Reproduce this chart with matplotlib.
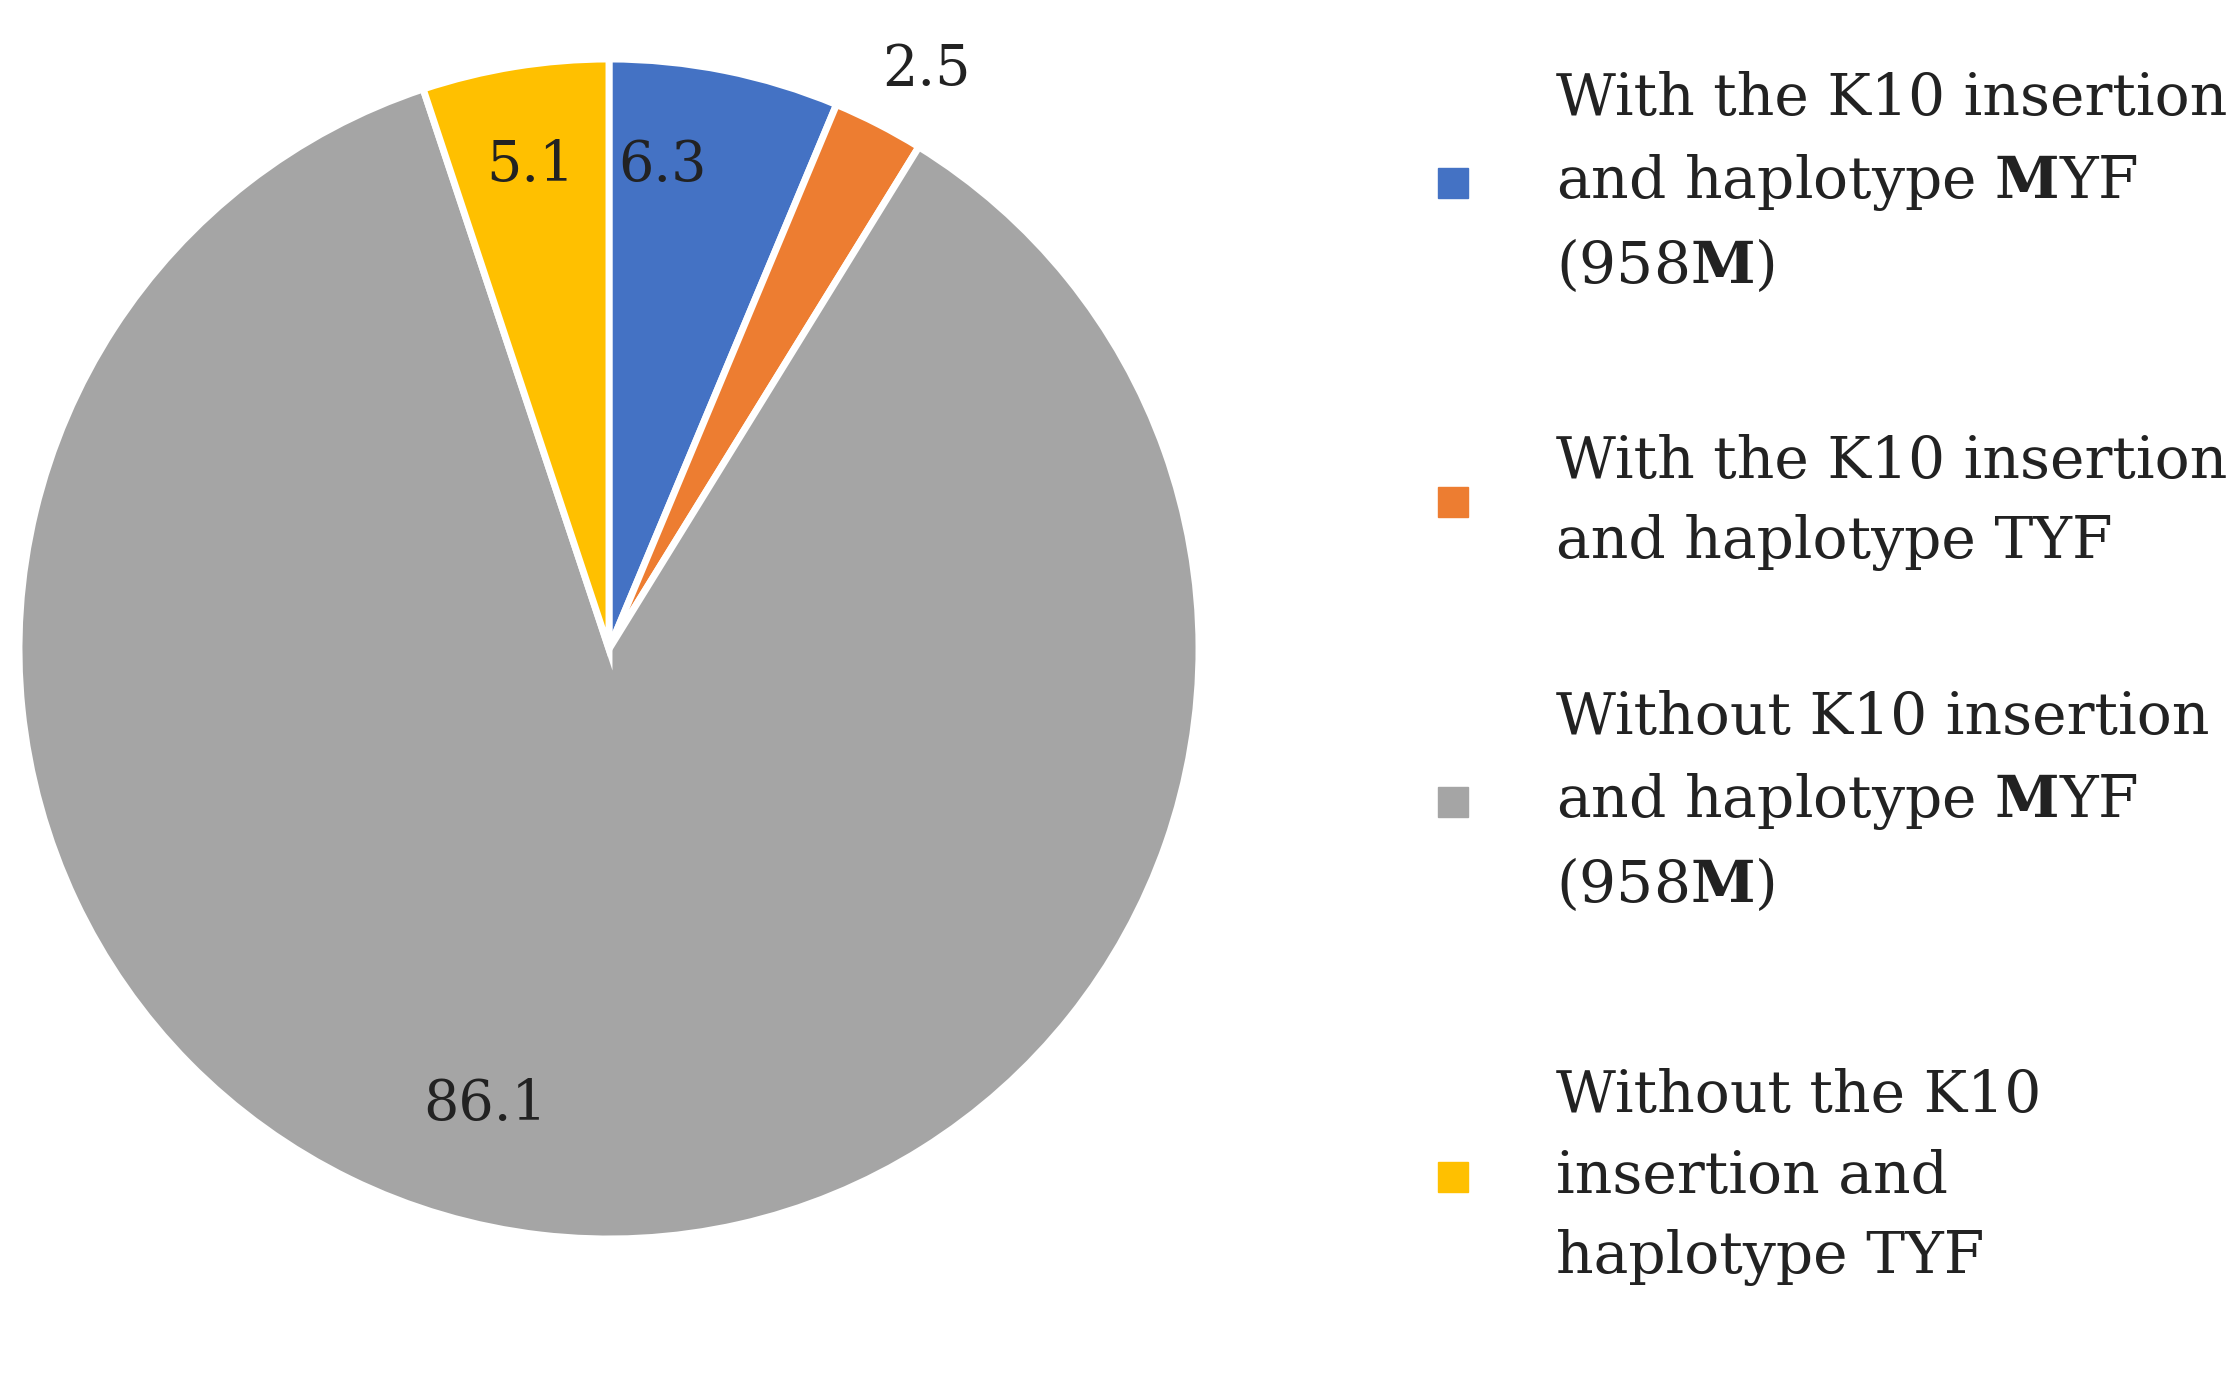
import matplotlib
matplotlib.use("Agg")
import matplotlib.pyplot as plt
import numpy as np
from matplotlib.patches import Rectangle

values = [6.3, 2.5, 86.1, 5.1]
labels = ["6.3", "2.5", "86.1", "5.1"]
legend_texts = [
    "With the K10 insertion\nand haplotype $\\mathbf{M}$YF\n(958$\\mathbf{M}$)",
    "With the K10 insertion\nand haplotype TYF",
    "Without K10 insertion\nand haplotype $\\mathbf{M}$YF\n(958$\\mathbf{M}$)",
    "Without the K10\ninsertion and\nhaplotype TYF",
]
colors = ["#4472C4", "#ED7D31", "#A5A5A5", "#FFC000"]

plt.rcParams['font.family'] = 'DejaVu Serif'
plt.rcParams['mathtext.fontset'] = 'custom'
plt.rcParams['mathtext.rm'] = 'DejaVu Serif'
plt.rcParams['mathtext.bf'] = 'DejaVu Serif:bold'

W, H = 2238, 1374
fig = plt.figure(figsize=(W/100, H/100), dpi=100)
cx, cy, R = 609, 649, 590
ax = fig.add_axes([(cx-R)/W, (H-cy-R)/H, 2*R/W, 2*R/H])
wedges, _ = ax.pie(values, colors=colors, startangle=90, counterclock=False,
                   wedgeprops=dict(edgecolor='white', linewidth=5))
ax.set_xlim(-1, 1); ax.set_ylim(-1, 1)
ax.set_aspect('equal')

radii = [0.825, 1.12, 0.80, 0.83]
ang_off = [5.0, -1.5, -8.6, 0.0]
cum = 0
for v, lab, r, d in zip(values, labels, radii, ang_off):
    mid = np.deg2rad(90 - (cum + v/2) * 3.6 + d)
    cum += v
    ax.text(r*np.cos(mid), r*np.sin(mid), lab, ha='center', va='center',
            fontsize=40, color='#222222')

# manual legend
Hd = 963.0
marker_y = [128, 352, 562, 825]
for ty, txt, c in zip(marker_y, legend_texts, colors):
    yf = 1 - ty/Hd
    s = 30
    fig.patches.append(Rectangle((1453/W - s/2/W, yf - s/2/H), s/W, s/H,
                                 transform=fig.transFigure, color=c))
    fig.text(1556/W, yf, txt, ha='left', va='center', fontsize=42,
             linespacing=1.55, color='#222222')

fig.savefig("out.png", dpi=100)
